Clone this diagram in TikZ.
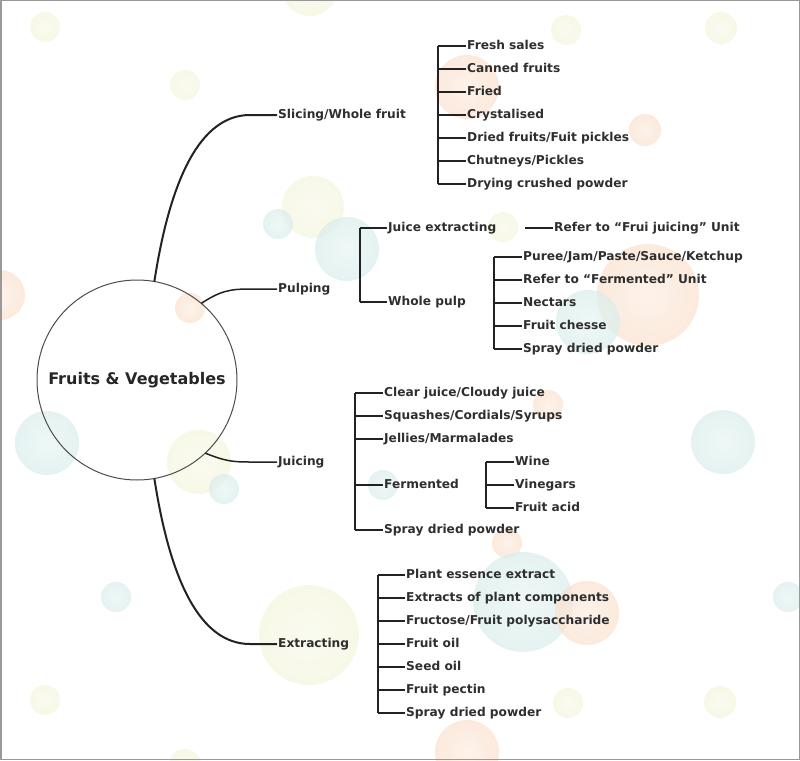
\documentclass[tikz,border=0pt]{standalone}
\usepackage{fontspec}
\setmainfont{DejaVu Sans}
\definecolor{txtc}{HTML}{2E2E2E}
\definecolor{linec}{HTML}{222222}
\definecolor{tealC}{HTML}{BDE0DD}
\definecolor{oranC}{HTML}{F7CBAA}
\definecolor{yelC}{HTML}{ECEFC4}
\pgfdeclareradialshading{bubT}{\pgfpointorigin}{color(0bp)=(tealC!35!white); color(32bp)=(tealC!65!white); color(46bp)=(tealC); color(50bp)=(tealC!85!white)}
\pgfdeclareradialshading{bubO}{\pgfpointorigin}{color(0bp)=(oranC!35!white); color(32bp)=(oranC!65!white); color(46bp)=(oranC); color(50bp)=(oranC!85!white)}
\pgfdeclareradialshading{bubY}{\pgfpointorigin}{color(0bp)=(yelC!35!white); color(32bp)=(yelC!65!white); color(46bp)=(yelC); color(50bp)=(yelC!85!white)}
\begin{document}
\begin{tikzpicture}[x=1pt,y=-1pt,
  lbl/.style={anchor=west, inner sep=1pt, font=\bfseries\fontsize{12.2}{14}\selectfont, text=txtc, text height=9pt, text depth=2pt},
  link/.style={draw=linec, line width=1.2pt},
  branch/.style={draw=linec, line width=1.5pt},
  mainbranch/.style={draw=linec, line width=2pt},
  bt/.style={shading=bubT, fill opacity=0.7},
  bo/.style={shading=bubO, fill opacity=0.7},
  by/.style={shading=bubY, fill opacity=0.7}]
\useasboundingbox (0,0) rectangle (800,760);
% background bubbles
\begin{scope}
\clip (0,0) rectangle (800,760);
\shade[by] (45,27) circle (15);
\shade[by] (185,85) circle (15);
\shade[by] (310,-12) circle (28);
\shade[bo] (0,295) circle (25);
\shade[by] (313,207) circle (31);
\shade[bt] (278,224) circle (15);
\shade[bt] (347,249) circle (32);
\shade[bo] (190,308) circle (15);
\shade[by] (566,30) circle (15);
\shade[by] (721,28) circle (16);
\shade[bo] (467,87) circle (32);
\shade[bo] (645,130) circle (16);
\shade[by] (503,227) circle (15);
\shade[bo] (648,295) circle (51);
\shade[bt] (588,322) circle (32);
\shade[bt] (47,443) circle (32);
\shade[by] (199,462) circle (32);
\shade[bt] (224,489) circle (15);
\shade[bt] (383,485) circle (15);
\shade[bt] (116,597) circle (15);
\shade[by] (309,635) circle (50);
\shade[by] (45,700) circle (15);
\shade[by] (185,765) circle (16);
\shade[bo] (548,405) circle (15);
\shade[bt] (723,442) circle (32);
\shade[bo] (507,543) circle (15);
\shade[bt] (523,602) circle (50);
\shade[bo] (587,613) circle (32);
\shade[bt] (788,597) circle (15);
\shade[by] (568,703) circle (15);
\shade[by] (720,702) circle (16);
\shade[bo] (467,752) circle (32);
\end{scope}
\draw[gray!80, line width=1.5pt] (0.75,0.75) rectangle (799.25,759.25);
% root
\node[circle, draw=black!70, line width=1pt, minimum size=200pt, inner sep=0pt, outer sep=0pt,
      font=\bfseries\fontsize{16}{18}\selectfont, text=black!85] (root) at (137,380) {Fruits \& Vegetables};
% branch labels
\node[lbl] (slicing) at (277,115) {Slicing/Whole fruit};
\node[lbl] (pulping) at (277,289) {Pulping};
\node[lbl] (juicing) at (277,462) {Juicing};
\node[lbl] (extracting) at (277,644) {Extracting};
\draw[mainbranch] (root.80) .. controls (170,180) and (200,115) .. (250,115) -- (slicing.west);
\draw[branch] (root.50) .. controls (220,291) and (230,289) .. (250,289) -- (pulping.west);
\draw[branch] (root.-47) .. controls (225,461) and (232,462) .. (250,462) -- (juicing.west);
\draw[mainbranch] (root.-80) .. controls (170,580) and (200,644) .. (250,644) -- (extracting.west);
% slicing leaves
\coordinate (bs) at (438,46);
\foreach \t [count=\i from 0] in {Fresh sales, Canned fruits, Fried, Crystalised, Dried fruits/Fuit pickles, Chutneys/Pickles, Drying crushed powder}{
  \node[lbl] (s\i) at (466,46+23*\i) {\t};
  \draw[link] (bs |- s\i.west) -- (s\i.west);
}
\draw[link] (bs |- s0.west) -- (bs |- s6.west);
% pulping
\coordinate (bp) at (360,228);
\node[lbl] (juiceext) at (387,228) {Juice extracting};
\node[lbl] (wholepulp) at (387,302) {Whole pulp};
\draw[link] (bp |- juiceext.west) -- (juiceext.west);
\draw[link] (bp |- wholepulp.west) -- (wholepulp.west);
\draw[link] (bp |- juiceext.west) -- (bp |- wholepulp.west);
\node[lbl] (refer) at (553,228) {Refer to “Frui juicing” Unit};
\coordinate (rl) at (525,228);
\draw[link] (rl) -- (refer.west);
\coordinate (bw) at (494,257);
\foreach \t [count=\i from 0] in {Puree/Jam/Paste/Sauce/Ketchup, Refer to “Fermented” Unit, Nectars, Fruit chesse, Spray dried powder}{
  \node[lbl] (w\i) at (522,257+23*\i) {\t};
  \draw[link] (bw |- w\i.west) -- (w\i.west);
}
\draw[link] (bw |- w0.west) -- (bw |- w4.west);
% juicing
\coordinate (bj) at (355,393);
\node[lbl] (j0) at (383,393) {Clear juice/Cloudy juice};
\node[lbl] (j1) at (383,416) {Squashes/Cordials/Syrups};
\node[lbl] (j2) at (383,439) {Jellies/Marmalades};
\node[lbl] (j3) at (383,485) {Fermented};
\node[lbl] (j4) at (383,530) {Spray dried powder};
\foreach \i in {0,...,4}{ \draw[link] (bj |- j\i.west) -- (j\i.west); }
\draw[link] (bj |- j0.west) -- (bj |- j4.west);
\coordinate (bf) at (486,462);
\node[lbl] (f0) at (514,462) {Wine};
\node[lbl] (f1) at (514,485) {Vinegars};
\node[lbl] (f2) at (514,508) {Fruit acid};
\foreach \i in {0,1,2}{ \draw[link] (bf |- f\i.west) -- (f\i.west); }
\draw[link] (bf |- f0.west) -- (bf |- f2.west);
% extracting
\coordinate (be) at (378,575);
\foreach \t [count=\i from 0] in {Plant essence extract, Extracts of plant components, Fructose/Fruit polysaccharide, Fruit oil, Seed oil, Fruit pectin, Spray dried powder}{
  \node[lbl] (e\i) at (405,575+23*\i) {\t};
  \draw[link] (be |- e\i.west) -- (e\i.west);
}
\draw[link] (be |- e0.west) -- (be |- e6.west);
\end{tikzpicture}
\end{document}
